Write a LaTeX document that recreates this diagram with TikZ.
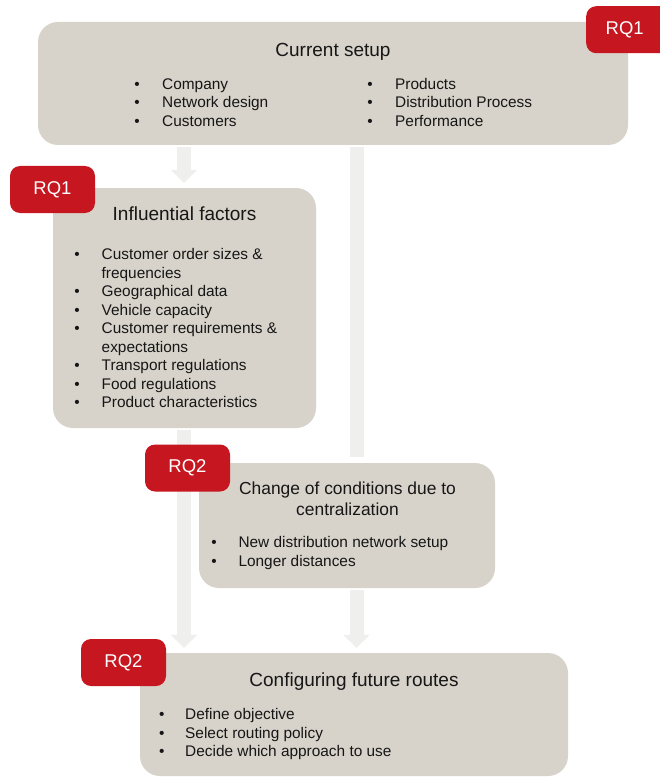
\documentclass[tikz,border=0pt]{standalone}
\usepackage{fontspec}
\setmainfont{Liberation Sans}
\usetikzlibrary{arrows.meta}

\definecolor{boxgray}{RGB}{215,211,202}
\definecolor{flowgray}{RGB}{239,239,237}
\definecolor{rqred}{RGB}{198,22,32}
\definecolor{ink}{RGB}{22,22,22}

\tikzset{
  stage/.style={fill=boxgray, rounded corners=20pt, inner sep=0pt, draw=none},
  badge/.style={fill=rqred, rounded corners=10pt, minimum width=85pt, minimum height=47pt,
    inner sep=0pt, text=white, font=\fontsize{18.5}{20}\selectfont},
  ttl/.style={anchor=base, inner sep=0pt, text=ink, font=\fontsize{19}{21}\selectfont},
  itm/.style={anchor=base west, inner sep=0pt, text=ink, font=\fontsize{15.4}{18.5}\selectfont},
  bul/.style={anchor=base, inner sep=0pt, text=ink, font=\fontsize{15.4}{18.5}\selectfont},
  shaft/.style={draw=flowgray, line width=14pt, shorten <=2pt},
  flow/.style={shaft, -{Triangle[width=26pt,length=13pt]}, shorten >=5pt},
}

% bullet item: name, bullet x, text x, baseline y, text
\newcommand\bitem[5]{%
  \node[bul] (#1b) at (#2,#4) {•};
  \node[itm] (#1) at (#3,#4) {#5};}

\begin{document}
\begin{tikzpicture}[x=1pt,y=-1pt]
\useasboundingbox (0,0) rectangle (660,778);
\clip (0,0) rectangle (660,778);

% stage boxes
\node[stage, minimum width=590pt, minimum height=123pt] (top) at (333,83.5) {};
\node[stage, minimum width=263pt, minimum height=240pt] (inf) at (184.5,308) {};
\node[stage, minimum width=296pt, minimum height=125pt] (chg) at (347,525.5) {};
\node[stage, minimum width=428pt, minimum height=123pt] (cfg) at (354,714.5) {};

% flow arrows
\coordinate (lx) at (184,0);
\coordinate (rx) at (356.5,0);
\draw[flow] (top.south -| lx) -- (inf.north -| lx);
\draw[shaft, shorten >=6pt] (top.south -| rx) -- (chg.north -| rx);
\draw[flow] (inf.south -| lx) -- (cfg.north -| lx);
\draw[flow] (chg.south -| rx) -- (cfg.north -| rx);

% current setup
\node[ttl] (topT) at (333,56.5) {Current setup};
\bitem{c1}{137}{162}{89.5}{Company}
\bitem{c2}{137}{162}{108}{Network design}
\bitem{c3}{137}{162}{126.5}{Customers}
\bitem{c4}{370}{395}{89.5}{Products}
\bitem{c5}{370}{395}{108}{Distribution Process}
\bitem{c6}{370}{395}{126.5}{Performance}

% influential factors
\node[ttl] (infT) at (184.5,220.7) {Influential factors};
\bitem{f1}{77}{101.5}{259.5}{Customer order sizes \&}
\node[itm] (f1w) at (101.5,278) {frequencies};
\bitem{f2}{77}{101.5}{296.5}{Geographical data}
\bitem{f3}{77}{101.5}{315}{Vehicle capacity}
\bitem{f4}{77}{101.5}{333.5}{Customer requirements \&}
\node[itm] (f4w) at (101.5,352) {expectations};
\bitem{f5}{77}{101.5}{370.5}{Transport regulations}
\bitem{f6}{77}{101.5}{389}{Food regulations}
\bitem{f7}{77}{101.5}{407.5}{Product characteristics}

% change of conditions
\node[ttl, font=\fontsize{17.4}{21}\selectfont] (chgT1) at (347.5,494) {Change of conditions due to};
\node[ttl, font=\fontsize{17.4}{21}\selectfont] (chgT2) at (347.5,515) {centralization};
\bitem{g1}{214}{238.3}{547.3}{New distribution network setup}
\bitem{g2}{214}{238.3}{566}{Longer distances}

% configuring future routes
\node[ttl] (cfgT) at (354,686.7) {Configuring future routes};
\bitem{h1}{161.7}{185}{719.3}{Define objective}
\bitem{h2}{161.7}{185}{738}{Select routing policy}
\bitem{h3}{161.7}{185}{756.7}{Decide which approach to use}

% research question badges
\node[badge, anchor=north west] (rq1a) at (586,6) {\hspace*{-8pt}RQ1};
\node[badge] (rq1b) at (52.5,189.5) {RQ1};
\node[badge] (rq2a) at (187.5,468) {RQ2};
\node[badge] (rq2b) at (123.5,662.5) {RQ2};
\end{tikzpicture}
\end{document}
